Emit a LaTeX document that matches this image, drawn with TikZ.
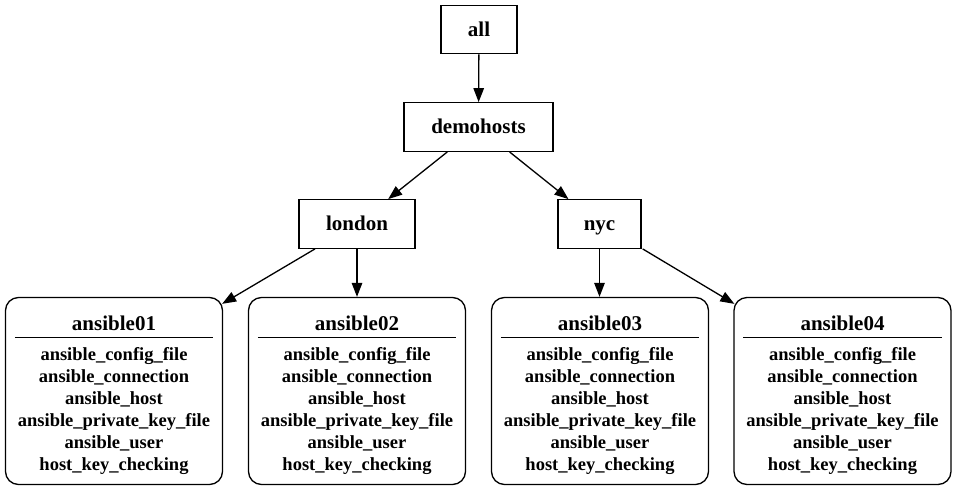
\documentclass[tikz,border=0pt]{standalone}
\usepackage{fontspec}
\setmainfont{Liberation Serif}
\usetikzlibrary{arrows.meta,calc}
\begin{document}
\begin{tikzpicture}[x=1pt,y=-1pt,
  line width=1.3pt,
  grp/.style={draw, rectangle, inner sep=0pt, minimum height=48.5pt,
    font=\bfseries\fontsize{21}{24}\selectfont, text height=13pt, text depth=0pt},
  hostbox/.style={draw, rectangle, rounded corners=13pt, inner sep=0pt,
    minimum width=217pt, minimum height=187pt},
  htitle/.style={anchor=base, inner sep=0pt, font=\bfseries\fontsize{21}{24}\selectfont},
  hfield/.style={anchor=base, inner sep=0pt, font=\bfseries\fontsize{18.5}{22}\selectfont},
  arr/.style={-{Triangle[length=14pt,width=10.5pt]}}
]
\useasboundingbox (0,0) rectangle (958,490);

\node[grp, minimum width=76pt]  (all)       at (479,29.5) {all};
\node[grp, minimum width=149pt] (demohosts) at (478.5,127) {demohosts};
\node[grp, minimum width=116pt] (london)    at (357,224) {london};
\node[grp, minimum width=83pt]  (nyc)       at (599.5,224) {nyc};

\foreach \i/\x in {1/114,2/357,3/600,4/842.5}{
  \node[hostbox] (a\i) at (\x,391) {};
  \node[htitle] (t\i) at (\x,330) {ansible0\i};
  \draw ($(a\i.north west)+(10,40.5)$) -- ($(a\i.north east)+(-10,40.5)$);
  \node[hfield] (f\i a) at (\x,360) {ansible\_config\_file};
  \node[hfield] (f\i b) at (\x,382) {ansible\_connection};
  \node[hfield] (f\i c) at (\x,404) {ansible\_host};
  \node[hfield] (f\i d) at (\x,426) {ansible\_private\_key\_file};
  \node[hfield] (f\i e) at (\x,448) {ansible\_user};
  \node[hfield] (f\i f) at (\x,470) {host\_key\_checking};
}

\draw[arr] (all) -- (demohosts);
\draw[arr] (demohosts) -- (london);
\draw[arr] (demohosts) -- (nyc);
\draw[arr] ($(london.south)+(-42,0)$) -- ($(a1.north east)+(-1,7)$);
\draw[arr] (london) -- (a2);
\draw[arr] (nyc.south) -- (nyc.south |- a3.north);
\draw[arr] ($(nyc.south east)+(1,0)$) -- ($(a4.north west)+(1,7)$);
\end{tikzpicture}
\end{document}
